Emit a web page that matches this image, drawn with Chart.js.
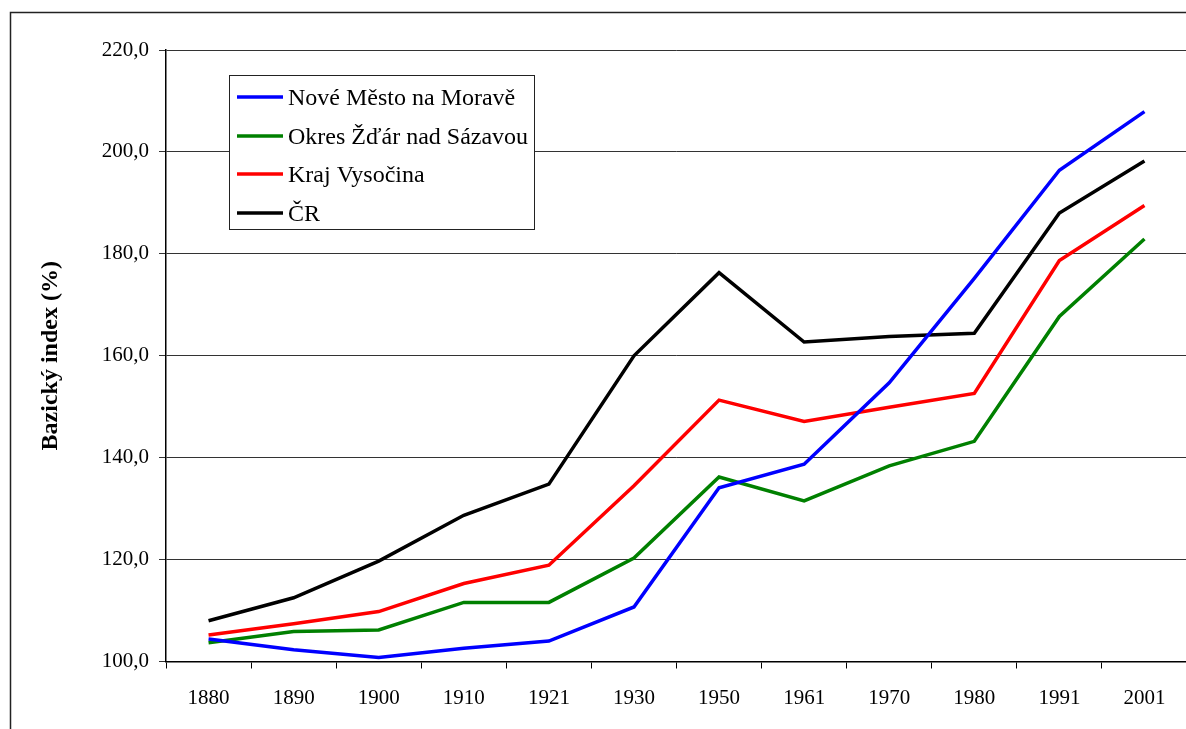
<!DOCTYPE html>
<html>
<head>
<meta charset="utf-8">
<script src="https://cdn.jsdelivr.net/npm/chart.js@4/dist/chart.umd.min.js"></script>
<style>
  html, body { margin: 0; padding: 0; background: #fff; overflow: hidden; width: 1186px; height: 729px; }
  canvas { display: block; }
</style>
</head>
<body>
<canvas id="c" width="1190" height="729"></canvas>
<script>
// Census years and base index values (%)
const years = ['1880', '1890', '1900', '1910', '1921', '1930', '1950', '1961', '1970', '1980', '1991', '2001'];
const noveMesto = [104.4, 102.3, 100.8, 102.6, 104.0, 110.7, 134.1, 138.7, 154.7, 175.2, 196.4, 207.9];
const okresZdar = [103.7, 105.9, 106.2, 111.6, 111.6, 120.3, 136.2, 131.5, 138.4, 143.2, 167.7, 182.9];
const krajVysocina = [105.2, 107.4, 109.8, 115.3, 118.9, 134.5, 151.3, 147.1, 149.9, 152.6, 178.7, 189.5];
const ceskaRepublika = [108.0, 112.5, 119.7, 128.7, 134.8, 160.0, 176.3, 162.7, 163.8, 164.4, 188.0, 198.2];

const seriesNames = ['Nové Město na Moravě', 'Okres Žďár nad Sázavou', 'Kraj Vysočina', 'ČR'];
const seriesColors = ['#0000ff', '#008000', '#ff0000', '#000000'];
const seriesValues = [noveMesto, okresZdar, krajVysocina, ceskaRepublika];

const yMin = 100, yMax = 220, yStep = 20;
const serif = 'Liberation Serif, "Times New Roman", serif';

// white page with the frame around the chart
const framePlugin = {
  id: 'frame',
  beforeDraw(chart) {
    const ctx = chart.ctx;
    ctx.save();
    ctx.fillStyle = '#fff';
    ctx.fillRect(0, 0, chart.width, chart.height);
    ctx.strokeStyle = '#222';
    ctx.lineWidth = 1.5;
    ctx.beginPath();
    ctx.moveTo(10.5, chart.height + 5);
    ctx.lineTo(10.5, 12.5);
    ctx.lineTo(chart.width + 5, 12.5);
    ctx.stroke();
    ctx.restore();
  }
};

// boxed legend placed inside the plot
const boxLegendPlugin = {
  id: 'boxLegend',
  afterDatasetsDraw(chart) {
    const ctx = chart.ctx;
    const x0 = 229.5, y0 = 75.5, w = 305, h = 154;
    ctx.save();
    ctx.fillStyle = '#fff';
    ctx.fillRect(x0, y0, w, h);
    ctx.strokeStyle = '#222';
    ctx.lineWidth = 1;
    ctx.strokeRect(x0, y0, w, h);
    ctx.font = '24px ' + serif;
    ctx.fillStyle = '#000';
    ctx.textBaseline = 'alphabetic';
    ctx.textAlign = 'left';
    const rowMid = [97, 136, 174, 213];
    chart.data.datasets.forEach((ds, i) => {
      const ym = rowMid[i];
      ctx.strokeStyle = ds.borderColor;
      ctx.lineWidth = 3.5;
      ctx.beginPath();
      ctx.moveTo(237, ym);
      ctx.lineTo(283, ym);
      ctx.stroke();
      ctx.fillText(ds.label, 288, ym + 8);
    });
    ctx.restore();
  }
};

new Chart(document.getElementById('c'), {
  type: 'line',
  data: {
    labels: years,
    datasets: seriesNames.map((name, i) => ({
      label: name,
      data: seriesValues[i],
      borderColor: seriesColors[i],
      backgroundColor: seriesColors[i],
      borderWidth: 3.5,
      pointRadius: 0,
      tension: 0,
      fill: false,
      borderJoinStyle: 'miter'
    }))
  },
  options: {
    responsive: false,
    animation: false,
    layout: { padding: { left: 30, top: 50, right: 3, bottom: 0 } },
    plugins: {
      legend: { display: false },
      tooltip: { enabled: false },
      title: { display: false }
    },
    scales: {
      x: {
        offset: true,
        grid: { offset: true, drawOnChartArea: false, drawTicks: true, tickLength: 7, color: '#000', lineWidth: 1 },
        border: { display: true, color: '#000', width: 1.5 },
        ticks: { padding: 17, color: '#000', autoSkip: false, maxRotation: 0, font: { family: serif, size: 21 } },
        afterFit(scale) { scale.height = 67.5; }
      },
      y: {
        min: yMin,
        max: yMax,
        ticks: {
          stepSize: yStep,
          padding: 10,
          color: '#000',
          font: { family: serif, size: 21 },
          callback: (v) => v.toFixed(1).replace('.', ',')
        },
        grid: { color: '#333', lineWidth: 1, drawTicks: true, tickLength: 7 },
        border: { display: true, color: '#000', width: 1.5 },
        title: {
          display: true,
          text: 'Bazický index (%)',
          color: '#000',
          font: { family: serif, size: 24, weight: 'bold' },
          padding: { top: 6, bottom: 0 }
        },
        afterFit(scale) { scale.width = 136; }
      }
    }
  },
  plugins: [framePlugin, boxLegendPlugin]
});
</script>
</body>
</html>
